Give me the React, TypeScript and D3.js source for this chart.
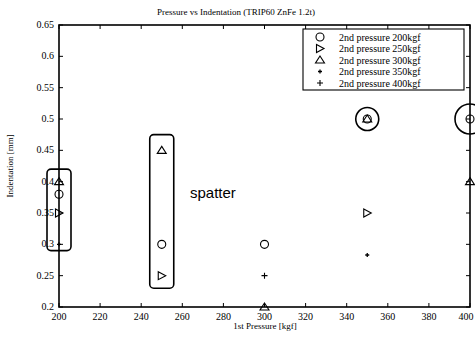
import React from "react";
import * as d3 from "d3";

const xTicks = [200, 220, 240, 260, 280, 300, 320, 340, 360, 380, 400];
const yTicks = [0.2, 0.25, 0.3, 0.35, 0.4, 0.45, 0.5, 0.55, 0.6, 0.65];
const yTickLabels = ["0.2", "0.25", "0.3", "0.35", "0.4", "0.45", "0.5", "0.55", "0.6", "0.65"];
const seriesNames = ["2nd pressure 200kgf", "2nd pressure 250kgf", "2nd pressure 300kgf", "2nd pressure 350kgf", "2nd pressure 400kgf"];
const seriesSymbols = ["circle", "rtri", "utri", "smallplus", "plus"];
const s200x = [200, 250, 300, 350, 400];
const s200y = [0.38, 0.3, 0.3, 0.5, 0.5];
const s250x = [200, 250, 350];
const s250y = [0.35, 0.25, 0.35];
const s300x = [200, 250, 300, 350, 400];
const s300y = [0.4, 0.45, 0.2, 0.5, 0.4];
const s350x = [200, 350];
const s350y = [0.3, 0.283];
const s400x = [300];
const s400y = [0.25];
const boxGroups = [{ x: 200, y0: 0.29, y1: 0.42 }, { x: 250, y0: 0.23, y1: 0.475 }];
const circleMarks = [{ x: 350, y: 0.5, r: 11.5 }, { x: 400, y: 0.5, r: 15 }];

const W = 475, H = 340;
const m = { l: 59, r: 5, t: 25, b: 33 };
const x = d3.scaleLinear().domain([200, 400]).range([m.l, W - m.r]);
const y = d3.scaleLinear().domain([0.2, 0.65]).range([H - m.b, m.t]);

function Marker({ type, cx, cy }: { type: string; cx: number; cy: number }) {
  const st = { fill: "none", stroke: "#000", strokeWidth: 1.1 };
  if (type === "circle") return <circle cx={cx} cy={cy} r={4} {...st} />;
  if (type === "rtri")
    return <path d={`M${cx - 3.5},${cy - 4}L${cx + 4},${cy}L${cx - 3.5},${cy + 4}Z`} {...st} />;
  if (type === "utri")
    return <path d={`M${cx},${cy - 4}L${cx + 4.5},${cy + 3}L${cx - 4.5},${cy + 3}Z`} {...st} />;
  if (type === "smallplus")
    return <path d={`M${cx - 2},${cy}L${cx + 2},${cy}M${cx},${cy - 2}L${cx},${cy + 2}`} stroke="#000" strokeWidth={1.3} />;
  return <path d={`M${cx - 3},${cy}L${cx + 3},${cy}M${cx},${cy - 3}L${cx},${cy + 3}`} stroke="#000" strokeWidth={1.1} />;
}

export default function App() {
  const series = [
    { xs: s200x, ys: s200y },
    { xs: s250x, ys: s250y },
    { xs: s300x, ys: s300y },
    { xs: s350x, ys: s350y },
    { xs: s400x, ys: s400y },
  ];
  const font = "Liberation Serif, Times New Roman, serif";
  const x0 = x(200), x1 = x(400), y0 = y(0.2), y1 = y(0.65);
  return (
    <svg width={W} height={H} style={{ position: "absolute", left: 0, top: 0, background: "#fff" }} fontFamily={font}>
      <rect x={0} y={0} width={W} height={H} fill="#fff" />
      <text x={236} y={15} fontSize={9} textAnchor="middle">Pressure vs Indentation (TRIP60 ZnFe 1.2t)</text>
      <rect x={x0} y={y1} width={x1 - x0} height={y0 - y1} fill="none" stroke="#000" strokeWidth={1.6} />
      {xTicks.map((t) => (
        <g key={"x" + t}>
          <line x1={x(t)} x2={x(t)} y1={y0} y2={y0 - 4} stroke="#000" />
          <line x1={x(t)} x2={x(t)} y1={y1} y2={y1 + 4} stroke="#000" />
          <text x={Math.min(x(t), W - 9)} y={y0 + 13} fontSize={10} textAnchor="middle">{t}</text>
        </g>
      ))}
      {yTicks.map((t, i) => (
        <g key={"y" + t}>
          <line x1={x0} x2={x0 + 4} y1={y(t)} y2={y(t)} stroke="#000" />
          <line x1={x1} x2={x1 - 4} y1={y(t)} y2={y(t)} stroke="#000" />
          <text x={x0 - 5} y={y(t) + 3} fontSize={10} textAnchor="end">{yTickLabels[i]}</text>
        </g>
      ))}
      <text x={265} y={329} fontSize={9} textAnchor="middle">1st Pressure [kgf]</text>
      <text transform={`translate(13,166) rotate(-90)`} fontSize={9} textAnchor="middle">Indentation [mm]</text>
      {series.map((s, si) =>
        s.xs.map((xv, i) => <Marker key={si + "-" + i} type={seriesSymbols[si]} cx={x(xv)} cy={y(s.ys[i])} />)
      )}
      {boxGroups.map((b, i) => (
        <rect key={"b" + i} x={x(b.x) - 12} y={y(b.y1)} width={24} height={y(b.y0) - y(b.y1)} rx={4} fill="none" stroke="#000" strokeWidth={1.6} />
      ))}
      {circleMarks.map((c, i) => (
        <circle key={"c" + i} cx={x(c.x)} cy={y(c.y)} r={c.r} fill="none" stroke="#000" strokeWidth={1.6} />
      ))}
      <text x={190} y={198} fontSize={15} fontFamily="Liberation Sans, Arial, sans-serif">spatter</text>
      <rect x={303} y={29} width={161} height={61} fill="#fff" stroke="#000" strokeWidth={1.1} />
      {seriesNames.map((n, i) => (
        <g key={"l" + i}>
          <Marker type={seriesSymbols[i]} cx={320} cy={37 + i * 11.5} />
          <text x={339} y={40.5 + i * 11.5} fontSize={10}>{n}</text>
        </g>
      ))}
    </svg>
  );
}
